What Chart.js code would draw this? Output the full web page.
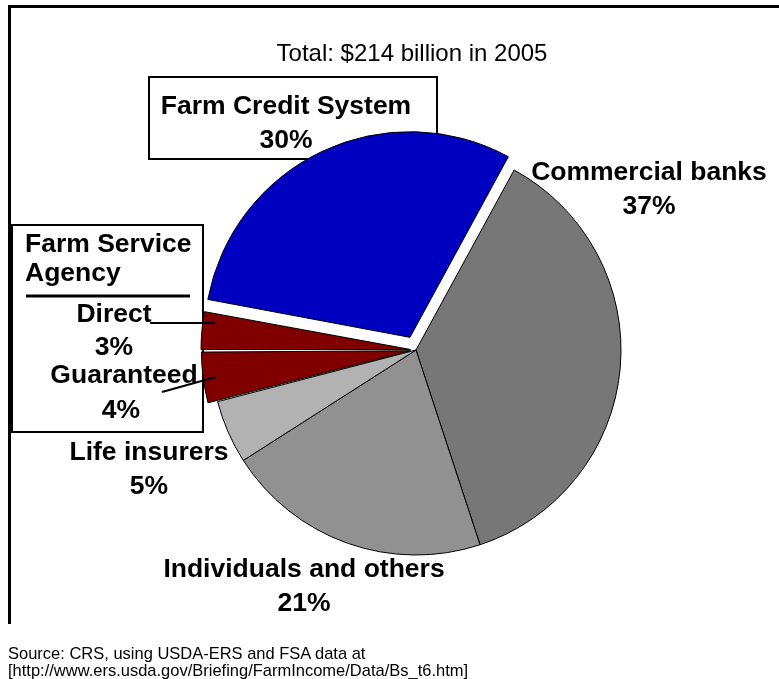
<!DOCTYPE html>
<html lang="en">
<head>
<meta charset="UTF-8">
<title>Agricultural debt by lender, 2005</title>
<script src="https://cdn.jsdelivr.net/npm/chart.js"></script>
<style>
  body { margin: 0; background: #fff; overflow: hidden; }
  #stage { position: relative; width: 779px; height: 679px; font-family: "Liberation Sans", Arial, sans-serif; color: #000; }
  #stage canvas, #stage svg { position: absolute; left: 0; top: 0; }
  .lbl { position: absolute; font-weight: bold; font-size: 26.5px; line-height: 34px; white-space: nowrap; text-align: center; transform: translateX(-50%); }
  .left { transform: none; text-align: left; }
  #total { position: absolute; left: 412px; top: 41px; font-size: 24px; line-height: 24px; white-space: nowrap; transform: translateX(-50%); }
  #source { position: absolute; left: 8px; top: 645px; font-size: 17px; line-height: 17px; white-space: nowrap; transform: scaleX(0.97); transform-origin: 0 0; }
</style>
</head>
<body>
<div id="stage">
    <!-- frame and label boxes sit under the pie -->
    <svg width="779" height="679">
        <polyline points="9.5,624 9.5,6.5 779,6.5" fill="none" stroke="#000" stroke-width="3"/>
        <rect x="149" y="77" width="288" height="82" fill="#fff" stroke="#000" stroke-width="2"/>
        <rect x="12" y="225" width="191" height="207" fill="#fff" stroke="#000" stroke-width="2"/>
        <line x1="26" y1="296" x2="190" y2="296" stroke="#000" stroke-width="3"/>
    </svg>
    <canvas id="pie" width="779" height="679"></canvas>
    <!-- leader lines for the FSA slices -->
    <svg width="779" height="679">
        <line x1="150" y1="323" x2="215" y2="323" stroke="#000" stroke-width="2"/>
        <line x1="162" y1="392" x2="216" y2="377" stroke="#000" stroke-width="2"/>
    </svg>
    <div id="total">Total: $214 billion in 2005</div>
    <div id="labels"></div>
    <div id="source">Source: CRS, using USDA-ERS and FSA data at<br>[http://www.ers.usda.gov/Briefing/FarmIncome/Data/Bs_t6.htm]</div>
</div>

<script>
// lenders' share of farm debt, 2005 (percent), clockwise from the top right
const lenders = ['Commercial banks', 'Individuals and others', 'Life insurers', 'Guaranteed', 'Direct', 'Farm Credit System'];
const shares = [37, 21, 5, 4, 3, 30];
const sliceColors = ['#777777', '#919191', '#b2b2b2', '#800000', '#800000', '#0000c0'];
// chart.js moves an arc by offset/4 px
const sliceOffsets = [0, 0, 0, 22, 22, 56];

// where each label goes (centre x, top)
const labelPos = {
    'Commercial banks': [649, 154],
    'Individuals and others': [304, 551],
    'Life insurers': [149, 434],
    'Farm Credit System': [286, 88],
    'Direct': [114, 296],
    'Guaranteed': [124, 357]
};

const box = document.getElementById('labels');
function addLabel(html, x, y, cls) {
    const d = document.createElement('div');
    d.className = 'lbl' + (cls ? ' ' + cls : '');
    d.style.left = x + 'px';
    d.style.top = y + 'px';
    d.innerHTML = html;
    box.appendChild(d);
}

lenders.forEach((name, i) => {
    const [x, y] = labelPos[name];
    if (name === 'Direct' || name === 'Guaranteed') {
        addLabel(name, x, y);
        addLabel(shares[i] + '%', name === 'Direct' ? 114 : 121, y + (name === 'Direct' ? 33 : 35));
    } else {
        addLabel(name + '<br>' + shares[i] + '%', x, y);
    }
});
addLabel('Farm Service', 25, 226, 'left');
addLabel('Agency', 25, 255, 'left');

new Chart(document.getElementById('pie'), {
    type: 'pie',
    data: {
        labels: lenders,
        datasets: [{
            data: shares,
            backgroundColor: sliceColors,
            borderColor: '#000',
            borderWidth: 1,
            offset: sliceOffsets
        }]
    },
    options: {
        responsive: false,
        animation: false,
        events: [],
        rotation: 28.6,
        radius: 205,
        layout: { padding: { left: 100, right: 47, top: 60, bottom: 39 } },
        plugins: {
            legend: { display: false },
            tooltip: { enabled: false }
        }
    }
});
</script>
</body>
</html>
